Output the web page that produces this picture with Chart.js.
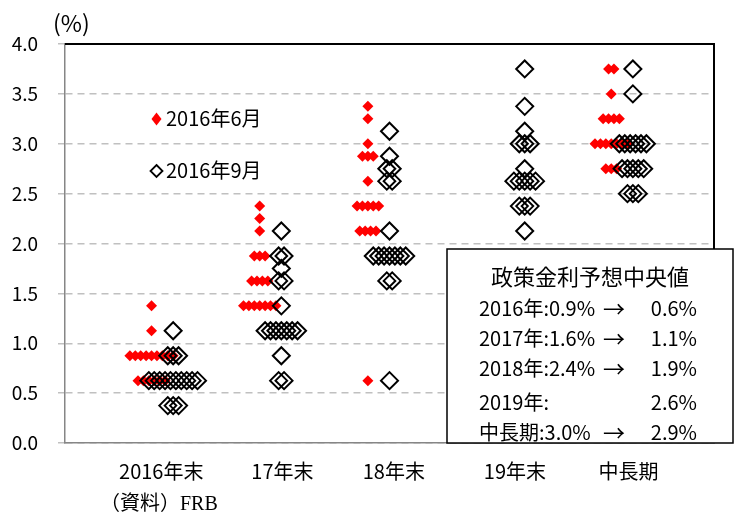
<!DOCTYPE html>
<html lang="ja">
<head>
<meta charset="utf-8">
<title>FOMC 政策金利予想</title>
<script src="https://cdn.jsdelivr.net/npm/chart.js@4.4.1/dist/chart.umd.min.js"></script>
<style>
  html, body { margin: 0; padding: 0; background: #fff; }
  canvas { display: block; }
</style>
</head>
<body>
<canvas id="dotChart" width="739" height="515"></canvas>
<script>
// カテゴリ
const categories = ['2016年末', '17年末', '18年末', '19年末', '中長期'];
// 散布図上のカテゴリ位置（x値）
const categoryX = [1, 2, 3, 4.25, 5.25];
const yTicks = [0, 0.5, 1.0, 1.5, 2.0, 2.5, 3.0, 3.5, 4.0];

// 2016年6月の参加者見通し（1ドット = 1人）
const june2016 = [
    [1.375, 1.125, 0.875, 0.875, 0.875, 0.875, 0.875, 0.875, 0.875, 0.875, 0.875,
     0.625, 0.625, 0.625, 0.625, 0.625, 0.625],
    [2.375, 2.25, 2.125, 1.875, 1.875, 1.875, 1.625, 1.625, 1.625, 1.625,
     1.375, 1.375, 1.375, 1.375, 1.375, 1.375, 1.375],
    [3.375, 3.25, 3.0, 2.875, 2.875, 2.875, 2.625, 2.375, 2.375, 2.375, 2.375, 2.375,
     2.125, 2.125, 2.125, 2.125, 0.625],
    [],
    [3.75, 3.75, 3.5, 3.25, 3.25, 3.25, 3.25, 3.0, 3.0, 3.0, 3.0, 3.0, 3.0, 3.0,
     2.75, 2.75, 2.75]
];

// 2016年9月の参加者見通し
const sept2016 = [
    [1.125, 0.875, 0.875, 0.875, 0.625, 0.625, 0.625, 0.625, 0.625, 0.625, 0.625,
     0.625, 0.625, 0.625, 0.375, 0.375, 0.375],
    [2.125, 1.875, 1.875, 1.75, 1.625, 1.625, 1.375, 1.125, 1.125, 1.125, 1.125,
     1.125, 1.125, 1.125, 0.875, 0.625, 0.625],
    [3.125, 2.875, 2.75, 2.75, 2.625, 2.625, 2.125, 1.875, 1.875, 1.875, 1.875,
     1.875, 1.875, 1.875, 1.625, 1.625, 0.625],
    [3.75, 3.375, 3.125, 3.0, 3.0, 3.0, 2.75, 2.625, 2.625, 2.625, 2.625, 2.625,
     2.375, 2.375, 2.375, 2.125],
    [3.75, 3.5, 3.0, 3.0, 3.0, 3.0, 3.0, 3.0, 2.75, 2.75, 2.75, 2.75, 2.75,
     2.5, 2.5, 2.5]
];

const boxLabels = ['2016年', '2017年', '2018年', '2019年', '中長期'];

const DOT_STEP = 0.05;   // 同じ値のドットの横間隔
const JUNE_SHIFT = -0.2; // 6月分は左にずらす

// 中央値
function median(arr) {
    const s = [...arr].sort((a, b) => a - b);
    const m = Math.floor(s.length / 2);
    return s.length % 2 ? s[m] : (s[m - 1] + s[m]) / 2;
}

// 同じ値のドットを横に並べる
function spreadDots(series, shift) {
    const points = [];
    series.forEach((values, i) => {
        const counts = new Map();
        values.forEach(v => counts.set(v, (counts.get(v) || 0) + 1));
        counts.forEach((n, v) => {
            for (let k = 0; k < n; k++) {
                points.push({ x: categoryX[i] + shift + (k - (n - 1) / 2) * DOT_STEP, y: v });
            }
        });
    });
    return points;
}

const FONT = "'Noto Sans CJK JP', 'Noto Sans', sans-serif";
Chart.defaults.font.family = FONT;
Chart.defaults.color = '#000';

// 枠線・凡例・注記・中央値ボックス
const decorPlugin = {
    id: 'decor',
    afterDatasetsDraw(chart) {
        const { ctx, chartArea: a } = chart;
        ctx.save();

        // 上・右の枠線
        ctx.strokeStyle = '#000';
        ctx.lineWidth = 2;
        ctx.beginPath();
        ctx.moveTo(a.left, a.top);
        ctx.lineTo(a.right, a.top);
        ctx.lineTo(a.right, a.bottom);
        ctx.stroke();

        // 単位
        ctx.fillStyle = '#000';
        ctx.font = `23px ${FONT}`;
        ctx.textAlign = 'left';
        ctx.textBaseline = 'middle';
        ctx.fillText('(%)', 53, 23);

        // 凡例
        ctx.fillStyle = '#ff0000';
        ctx.beginPath();
        ctx.moveTo(156.5, 112.5);
        ctx.lineTo(161.5, 119);
        ctx.lineTo(156.5, 125.5);
        ctx.lineTo(151.5, 119);
        ctx.closePath();
        ctx.fill();

        ctx.strokeStyle = '#000';
        ctx.lineWidth = 1.8;
        ctx.beginPath();
        ctx.moveTo(156.5, 165);
        ctx.lineTo(162.5, 171);
        ctx.lineTo(156.5, 177);
        ctx.lineTo(150.5, 171);
        ctx.closePath();
        ctx.stroke();

        ctx.fillStyle = '#000';
        ctx.font = `20px ${FONT}`;
        ctx.fillText('2016年6月', 166, 118);
        ctx.fillText('2016年9月', 166, 170);

        // 資料
        ctx.font = `20px 'Liberation Serif', ${FONT}`;
        ctx.fillText('（資料）FRB', 100, 505);

        // 中央値ボックス
        ctx.fillStyle = '#fff';
        ctx.fillRect(447, 249, 286, 194);
        ctx.strokeStyle = '#000';
        ctx.lineWidth = 1.5;
        ctx.strokeRect(447, 249, 286, 194);

        ctx.fillStyle = '#000';
        ctx.textAlign = 'center';
        ctx.font = `22px ${FONT}`;
        ctx.fillText('政策金利予想中央値', 590, 277);

        const rowY = [308, 338, 368, 402, 432];
        boxLabels.forEach((label, i) => {
            const before = june2016[i].length ? median(june2016[i]).toFixed(1) + '%' : '';
            const after = median(sept2016[i]).toFixed(1) + '%';
            ctx.font = `20px ${FONT}`;
            ctx.textAlign = 'left';
            ctx.fillText(label + ':' + before, 479, rowY[i]);
            ctx.textAlign = 'right';
            ctx.fillText(after, 697, rowY[i]);
            if (before) {
                ctx.textAlign = 'center';
                ctx.font = `22px ${FONT}`;
                ctx.fillText('→', 614, rowY[i] + 1);
            }
        });

        ctx.restore();
    }
};

new Chart(document.getElementById('dotChart'), {
    type: 'scatter',
    data: {
        datasets: [
            {
                label: '2016年6月',
                data: spreadDots(june2016, JUNE_SHIFT),
                pointStyle: 'rectRot',
                pointRadius: 5.5,
                pointHoverRadius: 5.5,
                backgroundColor: '#ff0000',
                borderColor: '#ff0000',
                borderWidth: 0,
                order: 1
            },
            {
                label: '2016年9月',
                data: spreadDots(sept2016, 0),
                pointStyle: 'rectRot',
                pointRadius: 8.5,
                pointHoverRadius: 8.5,
                backgroundColor: 'rgba(0,0,0,0)',
                borderColor: '#000',
                borderWidth: 2,
                order: 0
            }
        ]
    },
    options: {
        responsive: false,
        animation: false,
        events: [],
        layout: { padding: { top: 44, right: 25, left: 0, bottom: 0 } },
        plugins: {
            legend: { display: false },
            tooltip: { enabled: false }
        },
        scales: {
            x: {
                type: 'linear',
                min: 0,
                max: 6,
                afterBuildTicks: scale => {
                    // ラベルの位置
                    const labelX = [0.89, 2.01, 3.04, 4.16, 5.21];
                    scale.ticks = labelX.map(v => ({ value: v }));
                },
                afterFit: scale => { scale.height = 72; },
                ticks: {
                    callback: (v, i) => categories[i],
                    font: { size: 20 },
                    padding: 16,
                    autoSkip: false,
                    maxRotation: 0
                },
                grid: { display: false, drawTicks: false },
                border: { color: '#868686', width: 1.5 }
            },
            y: {
                min: 0,
                max: 4,
                afterBuildTicks: scale => {
                    scale.ticks = yTicks.map(v => ({ value: v }));
                },
                afterFit: scale => { scale.width = 65; },
                ticks: {
                    callback: v => v.toFixed(1),
                    font: { size: 19 },
                    padding: 20
                },
                grid: { color: '#c0c0c0', lineWidth: 1.5, tickLength: 7 },
                border: { color: '#868686', width: 1.5, dash: [7, 5] }
            }
        }
    },
    plugins: [decorPlugin]
});
</script>
</body>
</html>
